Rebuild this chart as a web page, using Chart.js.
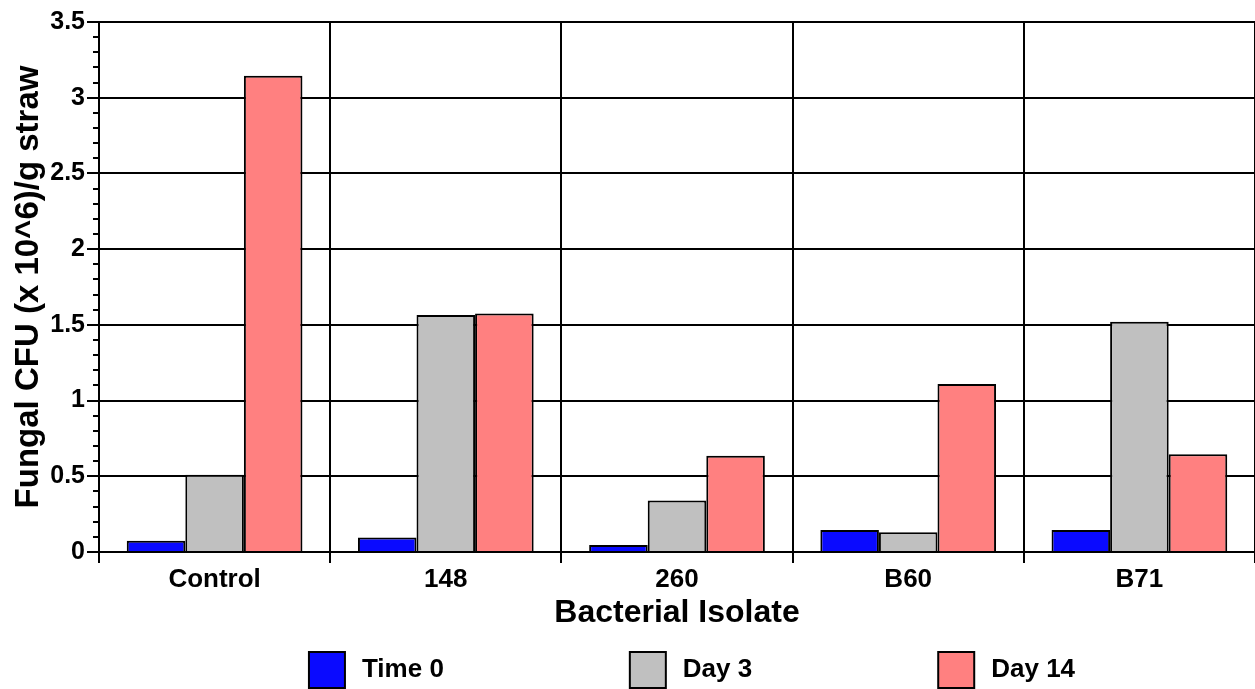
<!DOCTYPE html>
<html>
<head>
<meta charset="utf-8">
<script src="https://cdn.jsdelivr.net/npm/chart.js@4.4.0/dist/chart.umd.min.js"></script>
<style>
html, body { margin: 0; padding: 0; background: #fff; }
#wrap { width: 1255px; height: 689px; }
</style>
</head>
<body>
<div id="wrap"><canvas id="canvas"></canvas></div>
<script>
var isolates = ['Control', '148', '260', 'B60', 'B71'];
var time0 = [0.075, 0.095, 0.046, 0.145, 0.145];
var day3 = [0.51, 1.565, 0.34, 0.13, 1.52];
var day14 = [3.145, 1.575, 0.635, 1.11, 0.645];
var yTicks = [0, 0.5, 1, 1.5, 2, 2.5, 3, 3.5];
var minorStep = 0.1;

var fontFamily = '"Liberation Sans", Arial, Helvetica, sans-serif';

// short ticks between the labelled ones on the y axis
var minorTicks = {
    id: 'minorTicks',
    afterDraw: function (chart) {
        var y = chart.scales.y;
        var ctx = chart.ctx;
        ctx.save();
        ctx.strokeStyle = '#000';
        ctx.lineWidth = 2;
        var n = Math.round(y.max / minorStep);
        for (var i = 0; i <= n; i++) {
            var v = i * minorStep;
            if (yTicks.some(t => Math.abs(t - v) < 1e-6)) continue;
            var py = Math.round(y.getPixelForValue(v));
            ctx.beginPath();
            ctx.moveTo(y.right - 6, py);
            ctx.lineTo(y.right, py);
            ctx.stroke();
        }
        ctx.restore();
    }
};

// legend row under the axis title
var legendRow = {
    id: 'legendRow',
    afterDraw: function (chart) {
        var ctx = chart.ctx;
        var area = chart.chartArea;
        var sets = chart.data.datasets;
        var box = 36, gap = 186, textGap = 17;
        ctx.save();
        ctx.font = 'bold 26px ' + fontFamily;
        var widths = sets.map(d => box + textGap + ctx.measureText(d.label).width);
        var total = widths.reduce((a, b) => a + b, 0) + gap * (sets.length - 1);
        var x = (area.left + area.right) / 2 + 15 - total / 2;
        var top = chart.height - 37;
        sets.forEach(function (d, i) {
            ctx.fillStyle = d.backgroundColor;
            ctx.fillRect(x, top, box, box);
            ctx.strokeStyle = '#000';
            ctx.lineWidth = 2;
            ctx.strokeRect(x, top, box, box);
            ctx.fillStyle = '#000';
            ctx.textBaseline = 'alphabetic';
            ctx.fillText(d.label, x + box + textGap, top + 25);
            x += widths[i] + gap;
        });
        ctx.restore();
    }
};

window.onload = function () {
    var ctx = document.getElementById('canvas').getContext('2d');
    new Chart(ctx, {
        type: 'bar',
        data: {
            labels: isolates,
            datasets: [
                { label: 'Time 0', data: time0, backgroundColor: '#0a0aff', borderColor: '#000', borderWidth: 2 },
                { label: 'Day 3', data: day3, backgroundColor: '#c0c0c0', borderColor: '#000', borderWidth: 2 },
                { label: 'Day 14', data: day14, backgroundColor: '#ff8080', borderColor: '#000', borderWidth: 2 }
            ]
        },
        options: {
            responsive: true,
            maintainAspectRatio: false,
            animation: false,
            layout: { padding: { top: 22, right: 0, left: 0, bottom: 57 } },
            datasets: { bar: { categoryPercentage: 0.76, barPercentage: 1.0 } },
            plugins: { legend: { display: false }, tooltip: { enabled: false } },
            scales: {
                x: {
                    grid: { offset: true, color: '#000', lineWidth: 2, tickLength: 11 },
                    border: { color: '#000', width: 2 },
                    ticks: { color: '#000', padding: 1, font: { family: fontFamily, size: 26, weight: 'bold' } },
                    title: {
                        display: true, text: 'Bacterial Isolate', color: '#000',
                        font: { family: fontFamily, size: 32, weight: 'bold' }, padding: { top: 0, bottom: 0 }
                    },
                    afterFit: function (s) { s.height = 80; }
                },
                y: {
                    min: 0,
                    max: 3.5,
                    grid: { color: '#000', lineWidth: 2, tickLength: 12 },
                    border: { color: '#000', width: 2 },
                    ticks: {
                        color: '#000', padding: 2, font: { family: fontFamily, size: 25, weight: 'bold' },
                        callback: function (v) { return String(v); }
                    },
                    afterBuildTicks: function (s) { s.ticks = yTicks.map(v => ({ value: v })); },
                    title: {
                        display: true, text: 'Fungal CFU (x 10^6)/g straw', color: '#000',
                        font: { family: fontFamily, size: 33, weight: 'bold' }, padding: { top: 9, bottom: 0 }
                    },
                    afterFit: function (s) { s.width = 99; }
                }
            }
        },
        plugins: [minorTicks, legendRow]
    });
};
</script>
</body>
</html>
